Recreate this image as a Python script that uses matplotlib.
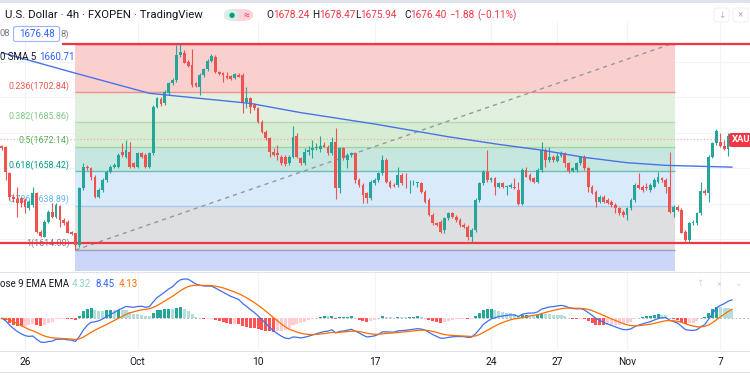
import numpy as np
import pandas as pd
import matplotlib
matplotlib.use('Agg')
import matplotlib.pyplot as plt
from matplotlib.patches import FancyBboxPatch, Rectangle

plt.rcParams['font.family'] = ['Roboto', 'DejaVu Sans']

# XAUUSD 4h candles (FXOPEN), Sep 23 - Nov 7
opens = [1672.6, 1671.8, 1657.2, 1644.0, 1642.5, 1643.1, 1642.2, 1637.5, 1639.3, 1645.9,
         1624.3, 1621.5, 1629.9, 1635.6, 1632.8, 1639.0, 1630.9, 1629.9, 1624.3, 1623.4,
         1616.8, 1648.7, 1660.9, 1660.0, 1655.3, 1644.0, 1647.8, 1653.4, 1658.1, 1660.9,
         1660.9, 1669.4, 1666.6, 1669.4, 1662.8, 1660.9, 1668.5, 1667.5, 1660.9, 1668.5,
         1694.7, 1698.9, 1696.6, 1702.3, 1707.9, 1709.8, 1723.9, 1724.8, 1720.1, 1718.2,
         1707.9, 1706.0, 1712.6, 1715.8, 1720.7, 1722.9, 1714.3, 1713.9, 1712.0, 1712.0,
         1710.7, 1712.8, 1712.6, 1697.6, 1699.4, 1695.7, 1693.8, 1686.3, 1680.7, 1676.9,
         1669.4, 1668.5, 1666.6, 1666.6, 1662.8, 1666.6, 1678.2, 1665.6, 1662.8, 1669.4,
         1670.3, 1671.3, 1670.7, 1673.2, 1672.2, 1668.5, 1675.0, 1648.7, 1671.3, 1664.7,
         1667.5, 1668.5, 1653.4, 1650.6, 1645.9, 1643.1, 1651.5, 1653.4, 1657.2, 1664.7,
         1652.5, 1650.6, 1650.6, 1656.2, 1651.9, 1651.5, 1651.5, 1651.5, 1651.9, 1646.9,
         1642.2, 1633.7, 1629.0, 1629.9, 1625.3, 1631.8, 1634.6, 1632.8, 1630.9, 1628.1,
         1627.1, 1621.5, 1625.3, 1642.2, 1651.5, 1658.1, 1653.4, 1654.4, 1649.7, 1651.5,
         1649.7, 1649.7, 1649.7, 1647.8, 1639.9, 1659.1, 1656.2, 1654.4, 1652.5, 1659.1,
         1670.3, 1664.7, 1666.2, 1664.3, 1667.0, 1668.5, 1662.8, 1658.7, 1659.1, 1662.8,
         1666.2, 1660.0, 1649.7, 1646.9, 1641.2, 1644.0, 1642.2, 1641.2, 1639.3, 1637.5,
         1635.6, 1633.7, 1637.5, 1642.2, 1650.6, 1649.7, 1649.7, 1647.8, 1649.7, 1652.5,
         1654.4, 1653.4, 1649.7, 1635.2, 1638.4, 1636.5, 1624.3, 1619.6, 1629.0, 1629.0,
         1634.6, 1647.2, 1645.9, 1666.6, 1674.1, 1675.0, 1672.6, 1670.7, 1678.24]
highs = [1673.2, 1672.6, 1658.1, 1645.5, 1649.7, 1644.0, 1643.1, 1642.2, 1649.7, 1646.9,
         1625.3, 1630.9, 1636.5, 1640.3, 1640.3, 1639.3, 1631.8, 1630.9, 1624.9, 1623.8,
         1649.7, 1662.8, 1661.9, 1660.9, 1656.2, 1648.7, 1654.4, 1659.1, 1661.9, 1662.8,
         1668.5, 1674.1, 1676.0, 1675.0, 1663.8, 1669.4, 1669.4, 1668.5, 1669.4, 1695.7,
         1700.4, 1700.0, 1704.1, 1708.8, 1710.7, 1729.5, 1730.3, 1726.7, 1721.0, 1727.0,
         1708.8, 1713.5, 1716.3, 1721.4, 1724.4, 1723.9, 1715.0, 1714.5, 1714.5, 1712.6,
         1713.5, 1713.5, 1713.5, 1706.0, 1700.4, 1696.6, 1694.7, 1687.2, 1681.6, 1677.8,
         1671.3, 1673.2, 1667.5, 1667.5, 1667.5, 1683.9, 1679.7, 1666.6, 1671.3, 1672.6,
         1676.0, 1674.1, 1678.2, 1675.0, 1673.2, 1677.8, 1682.5, 1672.2, 1672.2, 1668.5,
         1669.4, 1669.4, 1654.4, 1651.5, 1646.9, 1653.4, 1654.4, 1658.1, 1667.5, 1665.6,
         1653.4, 1651.5, 1660.9, 1657.2, 1657.2, 1653.4, 1653.4, 1652.5, 1652.5, 1647.8,
         1643.1, 1634.6, 1629.9, 1630.9, 1632.8, 1635.6, 1635.6, 1633.7, 1631.8, 1629.0,
         1628.1, 1626.2, 1643.1, 1652.5, 1659.1, 1670.3, 1655.3, 1655.3, 1652.5, 1652.5,
         1650.6, 1651.5, 1654.4, 1652.5, 1660.0, 1660.9, 1657.2, 1655.3, 1660.0, 1675.0,
         1671.3, 1672.2, 1667.5, 1668.5, 1670.0, 1669.4, 1663.8, 1660.9, 1663.8, 1666.9,
         1667.5, 1660.9, 1650.6, 1647.8, 1645.0, 1645.0, 1643.1, 1642.2, 1640.3, 1638.4,
         1636.5, 1638.4, 1643.1, 1651.5, 1657.2, 1650.6, 1651.5, 1651.5, 1654.4, 1658.1,
         1655.3, 1654.4, 1669.4, 1639.3, 1639.3, 1637.5, 1625.3, 1629.9, 1630.9, 1635.6,
         1652.5, 1648.2, 1667.5, 1675.0, 1682.0, 1680.1, 1676.0, 1680.1, 1678.47]
lows = [1670.3, 1653.4, 1642.2, 1641.2, 1632.8, 1638.4, 1634.6, 1636.5, 1638.4, 1623.4,
        1621.5, 1621.1, 1629.4, 1631.8, 1631.8, 1627.1, 1628.1, 1623.4, 1622.4, 1614.0,
        1615.9, 1647.8, 1659.1, 1653.4, 1643.1, 1643.1, 1646.9, 1652.5, 1657.2, 1660.0,
        1660.0, 1666.6, 1665.6, 1660.0, 1660.0, 1660.0, 1665.6, 1660.0, 1660.0, 1667.5,
        1693.8, 1695.1, 1695.7, 1701.3, 1706.9, 1708.8, 1722.9, 1719.2, 1717.3, 1706.0,
        1706.0, 1701.3, 1711.6, 1715.0, 1720.1, 1713.9, 1712.6, 1708.8, 1710.1, 1709.8,
        1710.1, 1711.3, 1691.0, 1693.8, 1691.0, 1692.9, 1685.4, 1679.7, 1676.0, 1666.6,
        1667.0, 1664.7, 1661.9, 1661.3, 1661.9, 1665.6, 1665.6, 1661.9, 1661.9, 1667.5,
        1665.6, 1670.3, 1669.4, 1671.8, 1667.5, 1667.5, 1642.5, 1645.9, 1664.7, 1660.0,
        1666.6, 1651.5, 1649.7, 1640.3, 1640.7, 1642.2, 1650.6, 1652.5, 1656.2, 1651.5,
        1648.7, 1649.3, 1649.7, 1650.6, 1648.7, 1645.9, 1650.6, 1649.7, 1645.9, 1640.3,
        1633.2, 1628.1, 1627.5, 1623.4, 1623.4, 1630.9, 1631.8, 1629.9, 1627.1, 1626.2,
        1619.6, 1618.7, 1624.3, 1641.2, 1650.6, 1652.5, 1652.5, 1645.0, 1648.7, 1648.7,
        1645.0, 1648.7, 1648.2, 1639.3, 1639.3, 1654.9, 1653.1, 1651.5, 1651.5, 1658.1,
        1660.9, 1663.8, 1663.8, 1663.8, 1666.2, 1660.9, 1657.2, 1658.1, 1658.1, 1661.9,
        1659.1, 1646.9, 1645.5, 1638.4, 1640.3, 1640.3, 1639.9, 1638.4, 1634.6, 1633.7,
        1632.8, 1630.9, 1636.5, 1641.2, 1648.2, 1646.9, 1647.8, 1646.9, 1648.7, 1651.5,
        1652.5, 1645.9, 1634.6, 1632.8, 1636.1, 1623.4, 1618.7, 1618.7, 1628.1, 1628.1,
        1633.7, 1645.0, 1641.2, 1665.6, 1673.2, 1671.8, 1670.3, 1667.0, 1675.94]
closes = [1671.3, 1658.1, 1644.0, 1642.5, 1640.3, 1640.3, 1638.4, 1641.2, 1645.9, 1624.3,
          1621.9, 1629.9, 1635.6, 1632.8, 1639.3, 1630.9, 1629.0, 1623.8, 1623.0, 1616.8,
          1648.7, 1660.9, 1660.0, 1655.3, 1644.0, 1647.8, 1653.4, 1658.1, 1660.9, 1661.9,
          1667.5, 1667.5, 1670.3, 1660.9, 1660.9, 1668.5, 1666.6, 1660.9, 1668.5, 1694.7,
          1699.4, 1696.2, 1703.2, 1707.9, 1709.8, 1723.9, 1725.7, 1719.5, 1717.7, 1706.9,
          1706.4, 1712.6, 1715.8, 1720.7, 1723.3, 1714.5, 1713.1, 1712.8, 1710.7, 1710.5,
          1713.0, 1711.6, 1697.6, 1699.4, 1694.7, 1693.8, 1686.3, 1680.7, 1676.9, 1669.4,
          1667.5, 1667.5, 1662.8, 1662.4, 1666.6, 1677.8, 1666.6, 1663.2, 1669.4, 1670.3,
          1671.3, 1672.2, 1672.6, 1672.2, 1668.5, 1675.0, 1648.7, 1671.3, 1665.6, 1667.5,
          1668.5, 1653.4, 1650.6, 1645.0, 1643.1, 1652.5, 1653.4, 1657.2, 1664.7, 1652.5,
          1649.7, 1650.0, 1656.2, 1651.5, 1651.5, 1651.9, 1651.9, 1652.3, 1646.9, 1641.2,
          1633.7, 1629.0, 1628.1, 1624.3, 1631.8, 1634.6, 1632.8, 1630.9, 1628.1, 1627.1,
          1621.5, 1625.3, 1642.2, 1651.5, 1658.1, 1653.4, 1654.4, 1649.7, 1651.5, 1649.7,
          1650.0, 1650.6, 1648.7, 1639.9, 1659.1, 1655.3, 1653.4, 1652.5, 1659.1, 1670.3,
          1664.7, 1666.2, 1664.7, 1667.0, 1668.8, 1662.8, 1658.7, 1660.0, 1663.2, 1666.2,
          1660.0, 1649.7, 1646.3, 1641.2, 1644.0, 1641.2, 1640.7, 1639.3, 1637.5, 1634.6,
          1633.7, 1637.5, 1642.2, 1650.6, 1648.7, 1647.8, 1648.7, 1650.6, 1653.4, 1655.3,
          1653.4, 1649.7, 1635.2, 1638.4, 1636.5, 1623.8, 1619.6, 1629.4, 1629.9, 1634.6,
          1647.2, 1645.9, 1666.6, 1674.1, 1681.2, 1672.6, 1671.1, 1678.2, 1676.40]
assert len(opens) == len(highs) == len(lows) == len(closes)

# long SMA, read at a few bars
sma_bars = [0, 19, 38, 64, 77, 96, 115, 128, 139, 150, 161, 171, 188]
sma_values = [1725.2, 1713.6, 1702.3, 1696.6, 1691.4, 1685.0, 1677.8, 1673.5, 1670.3,
              1666.2, 1663.2, 1661.7, 1660.7]

# Fibonacci retracement
fib_prices = [1730.28, 1702.84, 1685.86, 1672.14, 1658.42, 1638.89, 1614.00]
fib_labels = ['0(1730.28)', '0.236(1702.84)', '0.382(1685.86)', '0.5(1672.14)',
              '0.618(1658.42)', '0.786(1638.89)', '1(1614.00)']
fib_bottom = 1602.4
fib_start, fib_end = 19, 173.4
hline_prices = [1730.28, 1618.1]
last_price = 1676.40

date_bars = [6, 35, 66, 96, 126, 143, 161, 185]
date_labels = ['26', 'Oct', '10', '17', '24', '27', 'Nov', '7']

UP, DOWN = '#26a69a', '#ef5350'
TXT, GREY = '#131722', '#787b86'
W, H = 750.0, 375.0

o = np.array(opens); h = np.array(highs); l = np.array(lows); c = np.array(closes)
bars = np.arange(len(c))
up = c >= o

fig = plt.figure(figsize=(7.5, 3.75), dpi=100, facecolor='white')


def fy(py):
    return 1 - py / H


ax = fig.add_axes([0, fy(271), 1, (271 - 22) / H])
am = fig.add_axes([0, fy(350), 1, (350 - 273) / H])
xlim = (-1.7 / 3.884, (W - 1.7) / 3.884)
for a in (ax, am):
    a.set_xlim(*xlim)
    a.axis('off')
ax.set_ylim(1602.2, 1742.45)
am.set_ylim(-14.4, 20.6)

# grid
for p in range(1620, 1721, 20):
    ax.axhline(p, color='#f0f3fa', lw=0.8, zorder=0)
for b in date_bars:
    ax.axvline(b, color='#f0f3fa', lw=0.8, zorder=0)
    am.axvline(b, color='#f0f3fa', lw=0.8, zorder=0)

# fib zones
fill_colors = ['#f9d0ce', '#e2f1df', '#d6ecd3', '#c6e7df', '#d9eafb', '#dedfe0']
line_colors = ['#f23645', '#f08f8c', '#b5dab2', '#a3d3a0', '#6cbfb3', '#a4cbf3', '#9b9fc0']
text_colors = ['#f23645', '#ef5350', '#81c784', '#4caf50', '#089981', '#64b5f6', GREY]
for k in range(len(fill_colors)):
    ax.fill_between([fib_start, fib_end], fib_prices[k + 1], fib_prices[k],
                    color=fill_colors[k], lw=0, zorder=1)
ax.fill_between([fib_start, fib_end], fib_bottom, fib_prices[-1], color='#cbd6f9',
                lw=0, zorder=1)
for k, p in enumerate(fib_prices):
    ax.hlines(p, fib_start, fib_end, color=line_colors[k], lw=1.0, zorder=2)
    if k > 0:
        ax.annotate(fib_labels[k], xy=(17.4, p), xytext=(0, 1.2), textcoords='offset points',
                    ha='right', va='bottom', fontsize=6.4, color=text_colors[k], zorder=3)

# trend line of the fib
ax.plot([fib_start, 172.6], [fib_prices[-1], fib_prices[0]], color='#9598a1', lw=1.0,
        ls=(0, (3, 3)), zorder=3)

# horizontal lines
ax.hlines(hline_prices[0], 15.5, xlim[1], color='#f23645', lw=1.6, zorder=4)
ax.hlines(hline_prices[1], xlim[0], xlim[1], color='#f23645', lw=1.6, zorder=4)
ax.axhline(last_price, color='#f4a3a3', lw=0.8, ls=(0, (1, 2)), zorder=3)

# candles
col = np.where(up, UP, DOWN)
ax.vlines(bars, l, h, colors=col, lw=0.8, zorder=5)
body_lo = np.minimum(o, c)
body_h = np.maximum(np.abs(c - o), 0.35)
ax.bar(bars, body_h, bottom=body_lo, width=0.72, color=col, lw=0, zorder=6)

# SMA
ax.plot(sma_bars, sma_values, color='#4a72e8', lw=1.0, zorder=7)

# last price label (cut by the right edge in the screenshot)
fig.add_artist(FancyBboxPatch((729 / W, fy(147)), 24 / W, 14 / H, transform=fig.transFigure,
                              boxstyle='round,pad=0,rounding_size=0.004', fc='#f23645',
                              lw=0, zorder=10))
fig.text(731.5 / W, fy(140), 'XAU', fontsize=6.8, color='white', va='center', ha='left',
         fontweight='bold', zorder=11)

# MACD (12, 26, close, 9)
cs = pd.Series(closes)
macd = cs.ewm(span=12, adjust=False).mean() - cs.ewm(span=26, adjust=False).mean()
signal = macd.ewm(span=9, adjust=False).mean()
hist = (macd - signal).values
prev = np.concatenate([[0], hist[:-1]])
hcol = np.where(hist >= 0, np.where(hist > prev, '#26a69a', '#b2dfdb'),
                np.where(hist > prev, '#ffcdd2', '#ff5252'))
am.axhline(0, color='#b2b5be', lw=0.7, ls=(0, (2, 2)), zorder=1)
am.bar(bars, hist, width=0.78, color=hcol, lw=0, zorder=2)
am.plot(bars, macd.values, color='#3f6ff0', lw=0.9, zorder=3)
am.plot(bars, signal.values, color='#ff6d00', lw=0.9, zorder=3)

# pane separators and borders
for py in (272, 350.5, 371.5):
    fig.add_artist(plt.Line2D([0, 1], [fy(py), fy(py)], color='#e0e3eb', lw=0.8))
fig.add_artist(Rectangle((0, fy(2.5)), 1, 2.5 / H, transform=fig.transFigure,
                         color='#e0e3eb', lw=0))

# date axis
for b, lab in zip(date_bars, date_labels):
    fig.text((1.7 + 3.884 * b) / W, fy(362), lab, ha='center', va='center',
             fontsize=7.3, color=TXT)

# header
fig.text(5 / W, fy(15), 'U.S. Dollar · 4h · FXOPEN · TradingView', fontsize=8.2,
         color=TXT, va='center')
fig.add_artist(FancyBboxPatch((224 / W, fy(21)), 29 / W, 12 / H, transform=fig.transFigure,
                              boxstyle='round,pad=0,rounding_size=0.015', fc='#fbd3d9', lw=0))
fig.add_artist(FancyBboxPatch((224 / W, fy(21)), 15 / W, 12 / H, transform=fig.transFigure,
                              boxstyle='round,pad=0,rounding_size=0.015', fc='#d4f0e8', lw=0))
fig.text(231.5 / W, fy(15), '●', fontsize=5, color='#089981', ha='center', va='center')
fig.text(246 / W, fy(15.5), '≈', fontsize=7.5, color='#f23645', ha='center', va='center')

ohlc = [('O', '1678.24', 266.7), ('H', '1678.47', 312), ('L', '1675.94', 355),
        ('C', '1676.40', 404)]
for letter, val, px in ohlc:
    lw_px = {'O': 6.8, 'H': 6.8, 'L': 5.4, 'C': 6.4}[letter]
    fig.text(px / W, fy(15), letter, fontsize=7.2, color=TXT, va='center')
    fig.text((px + lw_px) / W, fy(15), val, fontsize=7.2, color='#f23645', va='center')
fig.text(449 / W, fy(15), '−1.88', fontsize=7.2, color='#f23645', va='center')
fig.text(477 / W, fy(15), '(−0.11%)', fontsize=7.2, color='#f23645', va='center')
for px in (714, 733):
    fig.add_artist(FancyBboxPatch((px / W, fy(22)), 15 / W, 14 / H, transform=fig.transFigure,
                                  boxstyle='round,pad=0,rounding_size=0.006', fc='white',
                                  ec='#eceef2', lw=0.6))
fig.text(721.5 / W, fy(15), '↓', fontsize=6.5, color='#b2b5be', ha='center', va='center')
fig.text(740.5 / W, fy(15), '×', fontsize=7, color='#b2b5be', ha='center', va='center')

# legend rows
fig.text(0, fy(34), '08', fontsize=6.8, color=GREY, va='center')
fig.add_artist(FancyBboxPatch((13.5 / W, fy(41.5)), 46 / W, 15 / H, transform=fig.transFigure,
                              boxstyle='round,pad=0,rounding_size=0.004', fc='white',
                              ec='#9fb3f7', lw=0.8))
fig.text(36.5 / W, fy(34), '1676.48', fontsize=7, color='#2962ff', ha='center', va='center')
fig.text(60.5 / W, fy(34), '8)', fontsize=6.8, color=GREY, va='center')
fig.text(0, fy(57), '0 SMA 5', fontsize=7, color=TXT, va='center')
fig.text(39 / W, fy(57), '1660.71', fontsize=7, color='#2962ff', va='center')

fig.text(0, fy(284), 'ose 9 EMA EMA', fontsize=7, color=TXT, va='center')
fig.text(72 / W, fy(284), '4.32', fontsize=7, color='#8fd0c6', va='center')
fig.text(96 / W, fy(284), '8.45', fontsize=7, color='#2962ff', va='center')
fig.text(119 / W, fy(284), '4.13', fontsize=7, color='#ff6d00', va='center')
for px, g in ((700, '↑'), (719, '×'), (738, '⌄')):
    fig.text(px / W, fy(284), g, fontsize=6.5, color='#d1d4dc', ha='center', va='center')

fig.savefig('out.png', dpi=100, facecolor='white')
